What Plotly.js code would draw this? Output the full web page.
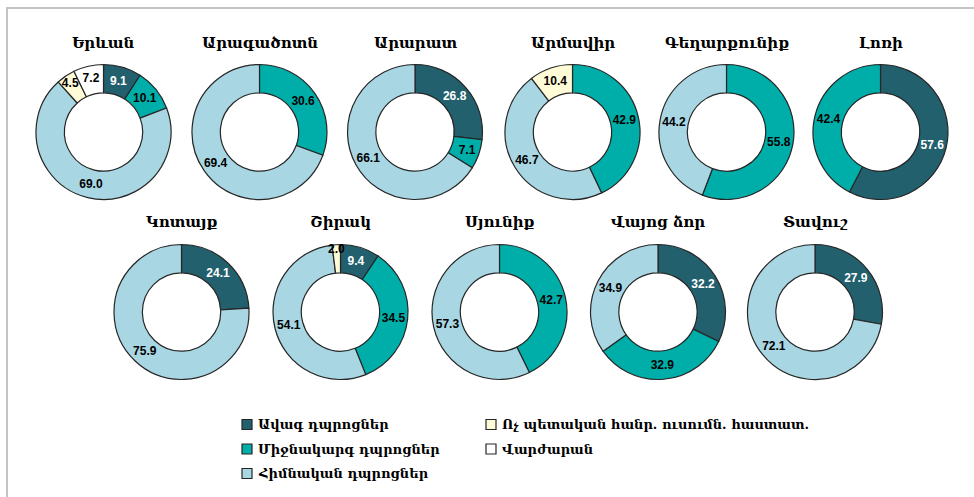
<!DOCTYPE html>
<html>
<head>
<meta charset="utf-8">
<script src="https://cdn.plot.ly/plotly-3.0.1.min.js"></script>
<style>html,body{margin:0;padding:0;background:#fff;}#chart{width:974px;height:497px;}</style>
</head>
<body>
<div id="chart"></div>
<script>
// ---- data ----
const categories = ["Ավագ դպրոցներ", "Միջնակարգ դպրոցներ", "Հիմնական դպրոցներ", "Ոչ պետական հանր. ուսումն. հաստատ.", "Վարժարան"];
const regions = ["Երևան", "Արագածոտն", "Արարատ", "Արմավիր", "Գեղարքունիք", "Լոռի", "Կոտայք", "Շիրակ", "Սյունիք", "Վայոց ձոր", "Տավուշ"];
const senior    = [9.1, 0, 26.8, 0, 0, 57.6, 24.1, 9.4, 0, 32.2, 27.9];
const middle    = [10.1, 30.6, 7.1, 42.9, 55.8, 42.4, 0, 34.5, 42.7, 32.9, 0];
const basic     = [69.0, 69.4, 66.1, 46.7, 44.2, 0, 75.9, 54.1, 57.3, 34.9, 72.1];
const nonState  = [4.5, 0, 0, 10.4, 0, 0, 0, 2.0, 0, 0, 0];
const gymnasium = [7.2, 0, 0, 0, 0, 0, 0, 0, 0, 0, 0];

// ---- styles / layout ----
const colors = ["#23606e", "#00aea9", "#a8d6e3", "#fffbd6", "#ffffff"];
const textColors = ["#ffffff", "#000000", "#000000", "#000000", "#000000"];
const W = 974, H = 497;
const R = 67.5;
const centers = [
  [103.5, 132], [259.5, 132], [415, 132], [572.5, 132], [726.5, 132], [880.5, 132],
  [181.5, 312], [340.5, 312], [499.5, 312], [658, 312], [815, 312]
];
const titleY = [43, 43, 43, 43, 43, 43, 222, 222, 222, 222, 222];
const px = x => x / W;
const py = y => 1 - y / H;

const series = [senior, middle, basic, nonState, gymnasium];
const traces = [];
const annotations = [];
regions.forEach((name, i) => {
  const labels = [], values = [], cols = [], tcols = [];
  series.forEach((s, k) => {
    if (s[i] > 0) {
      labels.push(categories[k]);
      values.push(s[i]);
      cols.push(colors[k]);
      tcols.push(textColors[k]);
    }
  });
  const [cx, cy] = centers[i];
  traces.push({
    type: "pie",
    name: name,
    labels: labels,
    values: values,
    sort: false,
    direction: "clockwise",
    rotation: 0,
    hole: 0.58,
    domain: { x: [px(cx - R), px(cx + R)], y: [py(cy + R), py(cy - R)] },
    marker: { colors: cols, line: { color: "#262626", width: 1.2 } },
    texttemplate: "%{value:.1f}",
    textposition: "inside",
    insidetextorientation: "horizontal",
    textfont: { family: "Liberation Sans, Arial, sans-serif", size: 12, weight: "bold", color: tcols },
    hoverinfo: "label+value",
    showlegend: false
  });
  annotations.push({
    xref: "paper", yref: "paper", x: px(cx), y: py(titleY[i]),
    xanchor: "center", yanchor: "middle", showarrow: false,
    text: name,
    font: { family: "DejaVu Serif", size: 15, weight: "bold", color: "#000000" }
  });
});

// legend (two columns, column-major)
const shapes = [{
  type: "rect", xref: "paper", yref: "paper",
  x0: px(7), x1: px(990), y0: py(8), y1: py(510),
  line: { color: "#c4c4c4", width: 2 }, fillcolor: "rgba(0,0,0,0)"
}];
const legCols = [242, 486];
const legRows = [424.5, 449, 473.5];
categories.forEach((c, k) => {
  const col = k < 3 ? 0 : 1;
  const row = k < 3 ? k : k - 3;
  const x0 = legCols[col], yc = legRows[row];
  shapes.push({
    type: "rect", xref: "paper", yref: "paper",
    x0: px(x0), x1: px(x0 + 10), y0: py(yc + 5), y1: py(yc - 5),
    fillcolor: colors[k], line: { color: "#262626", width: 1.2 }
  });
  annotations.push({
    xref: "paper", yref: "paper", x: px(x0 + 14), y: py(yc),
    xanchor: "left", yanchor: "middle", showarrow: false,
    text: c,
    font: { family: "DejaVu Serif", size: 13, weight: "bold", color: "#000000" }
  });
});

const layout = {
  width: W, height: H,
  margin: { l: 0, r: 0, t: 0, b: 0 },
  paper_bgcolor: "#ffffff",
  showlegend: false,
  uniformtext: { minsize: 12, mode: "show" },
  annotations: annotations,
  shapes: shapes
};
Plotly.newPlot("chart", traces, layout, { displayModeBar: false, staticPlot: true });
</script>
</body>
</html>
